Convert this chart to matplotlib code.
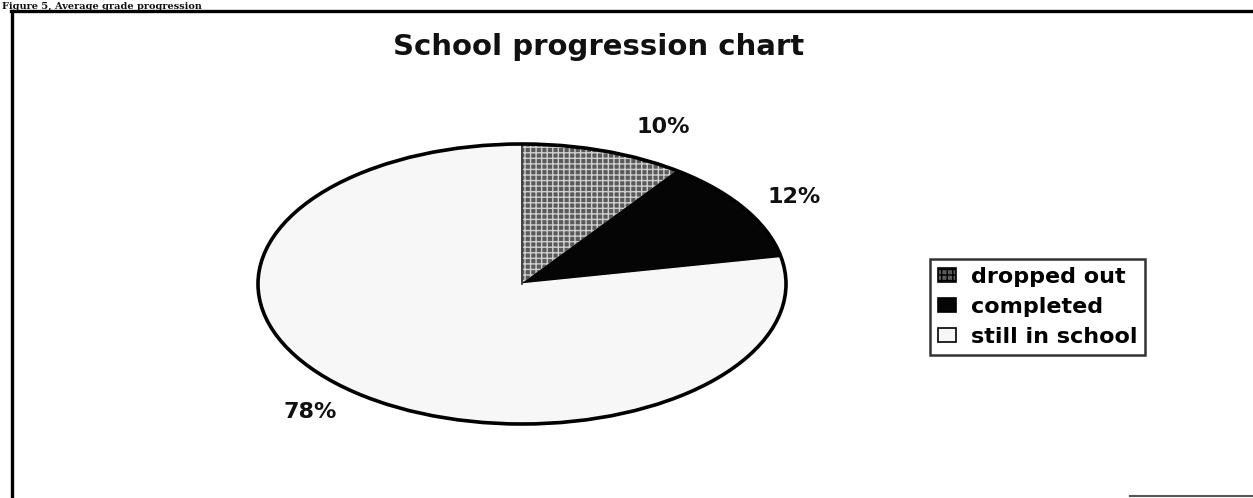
import matplotlib
matplotlib.use("Agg")
import matplotlib.pyplot as plt
from matplotlib.lines import Line2D

categories = ["dropped out", "completed", "still in school"]
values = [10, 12, 78]
pct_labels = [f"{v}%" for v in values]
title = "School progression chart"
caption = "Figure 5, Average grade progression"

W, H = 1253, 498
fig = plt.figure(figsize=(W / 100, H / 100), dpi=100)
fig.patch.set_facecolor("white")

# pie axes: stretched circle -> ellipse
cx, cy, a, b = 522, 284, 264, 140
ax = fig.add_axes([0, 0, 1, 1])
wedges, _ = ax.pie(values, startangle=90, counterclock=False, radius=1,
                   colors=["#5a5a5a", "#050505", "#f7f7f7"],
                   wedgeprops=dict(linewidth=1.0, edgecolor="white"))
wedges[0].set_edgecolor("#cfcfcf")
wedges[0].set_hatch("+++")
wedges[1].set_edgecolor("#050505")
wedges[2].set_edgecolor("#f7f7f7")
outline = plt.Circle((0, 0), 1, fill=False, edgecolor="black", linewidth=2.6, zorder=5)
ax.add_patch(outline)
ax.plot([0, 0], [0, 1], color="#222222", lw=1.2, zorder=4)
ax.set_aspect("auto")
ax.set_xlim(-cx / a, (W - cx) / a)
ax.set_ylim(-(H - cy) / b, cy / b)
ax.axis("off")

def fx(px):
    return px / W

def fy(py):
    return 1 - py / H

# percentage labels
label_pos = [(663, 127), (794, 197), (310, 412)]
for txt, (px, py) in zip(pct_labels, label_pos):
    fig.text(fx(px), fy(py), txt, ha="center", va="center",
             fontsize=16, fontweight="bold", color="#111111")

# title
fig.text(fx(599), fy(47), title, ha="center", va="center",
         fontsize=21, fontweight="bold", color="#111111")

# caption above the box (cut off in the scan; kept small and visible)
fig.text(fx(2), fy(9), caption, ha="left", va="baseline",
         fontsize=7, fontweight="bold", family="DejaVu Serif", color="#111111")

# border lines of the chart box
fig.add_artist(Line2D([fx(12), fx(12)], [fy(11), fy(498)], color="black", lw=2.4))
fig.add_artist(Line2D([fx(11), fx(1253)], [fy(11), fy(11)], color="black", lw=2.4))
fig.add_artist(Line2D([fx(1130), fx(1253)], [fy(496), fy(496)], color="#555555", lw=1.5))

# legend
leg = fig.legend(wedges, categories, loc="upper left",
                 bbox_to_anchor=(fx(930), fy(259)),
                 prop=dict(weight="bold", size=16),
                 frameon=True, fancybox=False, handlelength=0.8, handleheight=0.6,
                 handletextpad=0.7, borderpad=0.35, labelspacing=0.45,
                 borderaxespad=0)
leg.get_frame().set_edgecolor("black")
leg.get_frame().set_linewidth(1.8)
for h in leg.legend_handles:
    h.set_edgecolor("black")
    h.set_linewidth(1.2)

fig.savefig("out.png", dpi=100)
